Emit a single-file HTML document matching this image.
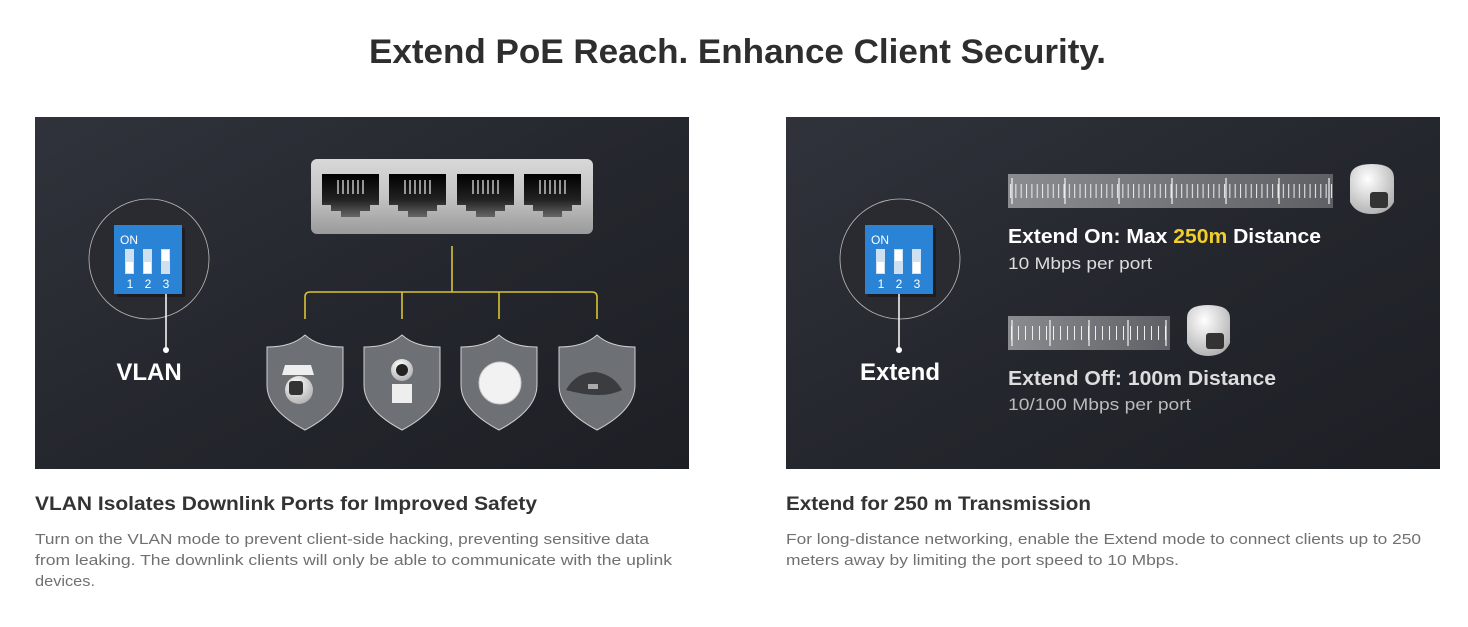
<!DOCTYPE html>
<html><head><meta charset="utf-8"><style>
html,body{margin:0;padding:0;background:#fff;width:1468px;height:627px;overflow:hidden}
svg{display:block}
</style></head><body>
<svg width="1468" height="627" viewBox="0 0 1468 627" xmlns="http://www.w3.org/2000/svg" font-family="Liberation Sans, sans-serif">
<defs>
<linearGradient id="bg" x1="0" y1="0" x2="1" y2="1"><stop offset="0" stop-color="#30333b"/><stop offset="0.5" stop-color="#25272e"/><stop offset="1" stop-color="#1d1f25"/></linearGradient>
<linearGradient id="sw" x1="0" y1="0" x2="0" y2="1"><stop offset="0" stop-color="#d8d8d8"/><stop offset="0.5" stop-color="#c4c4c4"/><stop offset="1" stop-color="#9a9a9a"/></linearGradient>
<linearGradient id="port" x1="0" y1="0" x2="0" y2="1"><stop offset="0" stop-color="#000"/><stop offset="0.6" stop-color="#222"/><stop offset="1" stop-color="#666"/></linearGradient>
<linearGradient id="ruler" x1="0" y1="0" x2="1" y2="0"><stop offset="0" stop-color="#8a8c90"/><stop offset="1" stop-color="#5e6065"/></linearGradient>
<radialGradient id="cam" cx="0.4" cy="0.3" r="0.8"><stop offset="0" stop-color="#fff"/><stop offset="1" stop-color="#aaa"/></radialGradient>
<pattern id="t1" x="1008" y="0" width="5.35" height="400" patternUnits="userSpaceOnUse"><rect x="2" y="0" width="1" height="400" fill="#eee"/></pattern>
<pattern id="t2" x="1008" y="0" width="7" height="400" patternUnits="userSpaceOnUse"><rect x="3" y="0" width="1" height="400" fill="#eee"/></pattern>
</defs>
<text x="369" y="63" font-size="34" font-weight="bold" fill="#2e2e2e" textLength="737" lengthAdjust="spacingAndGlyphs">Extend PoE Reach. Enhance Client Security.</text>

<!-- panel 1 -->
<rect x="35" y="117" width="654" height="352" fill="url(#bg)"/>
<rect x="311" y="159" width="282" height="75" rx="6" fill="url(#sw)"/>
<g fill="url(#port)">
<polygon points="322,174 379,174 379,205 370,205 370,211 360,211 360,217 341,217 341,211 331,211 331,205 322,205"/>
<polygon transform="translate(67,0)" points="322,174 379,174 379,205 370,205 370,211 360,211 360,217 341,217 341,211 331,211 331,205 322,205"/>
<polygon transform="translate(135,0)" points="322,174 379,174 379,205 370,205 370,211 360,211 360,217 341,217 341,211 331,211 331,205 322,205"/>
<polygon transform="translate(202,0)" points="322,174 379,174 379,205 370,205 370,211 360,211 360,217 341,217 341,211 331,211 331,205 322,205"/>
</g>
<g stroke="#ddd" stroke-width="1.3">
<path d="M338 180v14M343 180v14M348 180v14M353 180v14M358 180v14M363 180v14"/>
<path transform="translate(67,0)" d="M338 180v14M343 180v14M348 180v14M353 180v14M358 180v14M363 180v14"/>
<path transform="translate(135,0)" d="M338 180v14M343 180v14M348 180v14M353 180v14M358 180v14M363 180v14"/>
<path transform="translate(202,0)" d="M338 180v14M343 180v14M348 180v14M353 180v14M358 180v14M363 180v14"/>
</g>
<g stroke="#d9c234" stroke-width="1.6" fill="none">
<path d="M452 246V292M305 319V297q0-5 5-5H592q5 0 5 5V319M402 292V319M499 292V319"/>
</g>
<g fill="#6d7075" stroke="#cfd0d2" stroke-width="1">
<path d="M305 335Q318 347 343 347V385Q343 410 305 430Q267 410 267 385V347Q292 347 305 335Z"/>
<path transform="translate(97,0)" d="M305 335Q318 347 343 347V385Q343 410 305 430Q267 410 267 385V347Q292 347 305 335Z"/>
<path transform="translate(194,0)" d="M305 335Q318 347 343 347V385Q343 410 305 430Q267 410 267 385V347Q292 347 305 335Z"/>
<path transform="translate(292,0)" d="M305 335Q318 347 343 347V385Q343 410 305 430Q267 410 267 385V347Q292 347 305 335Z"/>
</g>
<path d="M285 365h26l3 10h-32z" fill="#eee"/><circle cx="299" cy="390" r="14" fill="url(#cam)"/><rect x="289" y="381" width="14" height="14" rx="3" fill="#333"/>
<circle cx="402" cy="370" r="11" fill="url(#cam)"/><circle cx="402" cy="370" r="6" fill="#222"/><path d="M392 384h20v19h-20z" fill="#eee"/>
<circle cx="500" cy="383" r="21" fill="#f2f2f2" stroke="#ccc"/>
<path d="M566 390q10-18 30-18q18 3 26 18q-20 10-56 0z" fill="#3a3c40"/><rect x="588" y="384" width="10" height="5" fill="#aaa"/>
<circle cx="149" cy="259" r="60" fill="#2a2b30" stroke="#bbb" stroke-width="0.8"/>
<rect x="117" y="228" width="68" height="69" fill="#111" opacity="0.5"/>
<rect x="114" y="225" width="68" height="69" fill="#2b83d6"/>
<text x="120" y="244" font-size="12" fill="#fff">ON</text>
<rect x="125" y="249" width="9" height="25" fill="#cfe0f0"/><rect x="126" y="262" width="7" height="11" fill="#fff"/>
<rect x="143" y="249" width="9" height="25" fill="#cfe0f0"/><rect x="144" y="262" width="7" height="11" fill="#fff"/>
<rect x="161" y="249" width="9" height="25" fill="#cfe0f0"/><rect x="162" y="250" width="7" height="11" fill="#fff"/>
<text x="130" y="288" font-size="12" fill="#fff" text-anchor="middle">1</text>
<text x="148" y="288" font-size="12" fill="#fff" text-anchor="middle">2</text>
<text x="166" y="288" font-size="12" fill="#fff" text-anchor="middle">3</text>
<path d="M166 294V350" stroke="#fff" stroke-width="1.5"/><circle cx="166" cy="350" r="3" fill="#fff"/>
<text x="149" y="380" font-size="24" font-weight="bold" fill="#fff" text-anchor="middle">VLAN</text>

<!-- panel 2 -->
<rect x="786" y="117" width="654" height="352" fill="url(#bg)"/>
<circle cx="900" cy="259" r="60" fill="#2a2b30" stroke="#bbb" stroke-width="0.8"/>
<rect x="868" y="228" width="68" height="69" fill="#111" opacity="0.5"/>
<rect x="865" y="225" width="68" height="69" fill="#2b83d6"/>
<text x="871" y="244" font-size="12" fill="#fff">ON</text>
<rect x="876" y="249" width="9" height="25" fill="#cfe0f0"/><rect x="877" y="262" width="7" height="11" fill="#fff"/>
<rect x="894" y="249" width="9" height="25" fill="#cfe0f0"/><rect x="895" y="250" width="7" height="11" fill="#fff"/>
<rect x="912" y="249" width="9" height="25" fill="#cfe0f0"/><rect x="913" y="262" width="7" height="11" fill="#fff"/>
<text x="881" y="288" font-size="12" fill="#fff" text-anchor="middle">1</text>
<text x="899" y="288" font-size="12" fill="#fff" text-anchor="middle">2</text>
<text x="917" y="288" font-size="12" fill="#fff" text-anchor="middle">3</text>
<path d="M899 294V350" stroke="#fff" stroke-width="1.5"/><circle cx="899" cy="350" r="3" fill="#fff"/>
<text x="900" y="380" font-size="24" font-weight="bold" fill="#fff" text-anchor="middle">Extend</text>

<rect x="1008" y="174" width="325" height="34" fill="url(#ruler)"/>
<rect x="1008" y="184" width="325" height="14" fill="url(#t1)"/>
<path d="M1012 178v26M1065 178v26M1119 178v26M1172 178v26M1226 178v26M1279 178v26M1329 178v26" stroke="#f4f4f4" stroke-width="1.2"/>
<path d="M1350 178q0-14 22-14q22 0 22 14v24q-6 12-22 12q-16 0-22-12z" fill="url(#cam)"/><rect x="1370" y="192" width="18" height="16" rx="3" fill="#333"/>
<text x="1008" y="243" font-size="20" font-weight="bold" fill="#fff" textLength="313" lengthAdjust="spacingAndGlyphs">Extend On: Max <tspan fill="#f0cf2c">250m</tspan> Distance</text>
<text x="1008" y="269" font-size="17" fill="#ddd" textLength="144" lengthAdjust="spacingAndGlyphs">10 Mbps per port</text>

<rect x="1008" y="316" width="162" height="34" fill="url(#ruler)"/>
<rect x="1008" y="326" width="162" height="14" fill="url(#t2)"/>
<path d="M1012 320v26M1050 320v26M1089 320v26M1128 320v26M1166 320v26" stroke="#f4f4f4" stroke-width="1.2"/>
<path d="M1187 318q0-13 21-13q22 0 22 13v25q-6 13-22 13q-15 0-21-13z" fill="url(#cam)"/><rect x="1206" y="333" width="18" height="16" rx="3" fill="#333"/>
<text x="1008" y="385" font-size="20" font-weight="bold" fill="#ddd" textLength="268" lengthAdjust="spacingAndGlyphs">Extend Off: 100m Distance</text>
<text x="1008" y="410" font-size="17" fill="#bbb" textLength="183" lengthAdjust="spacingAndGlyphs">10/100 Mbps per port</text>

<text x="35" y="510" font-size="19" font-weight="bold" fill="#333" textLength="502" lengthAdjust="spacingAndGlyphs">VLAN Isolates Downlink Ports for Improved Safety</text>
<text x="786" y="510" font-size="19" font-weight="bold" fill="#333" textLength="305" lengthAdjust="spacingAndGlyphs">Extend for 250 m Transmission</text>
<g font-size="15" fill="#707070">
<text x="35" y="544" textLength="614" lengthAdjust="spacingAndGlyphs">Turn on the VLAN mode to prevent client-side hacking, preventing sensitive data</text>
<text x="35" y="565" textLength="637" lengthAdjust="spacingAndGlyphs">from leaking. The downlink clients will only be able to communicate with the uplink</text>
<text x="35" y="586" textLength="60" lengthAdjust="spacingAndGlyphs">devices.</text>
<text x="786" y="544" textLength="635" lengthAdjust="spacingAndGlyphs">For long-distance networking, enable the Extend mode to connect clients up to 250</text>
<text x="786" y="565" textLength="393" lengthAdjust="spacingAndGlyphs">meters away by limiting the port speed to 10 Mbps.</text>
</g>
</svg>
</body></html>
